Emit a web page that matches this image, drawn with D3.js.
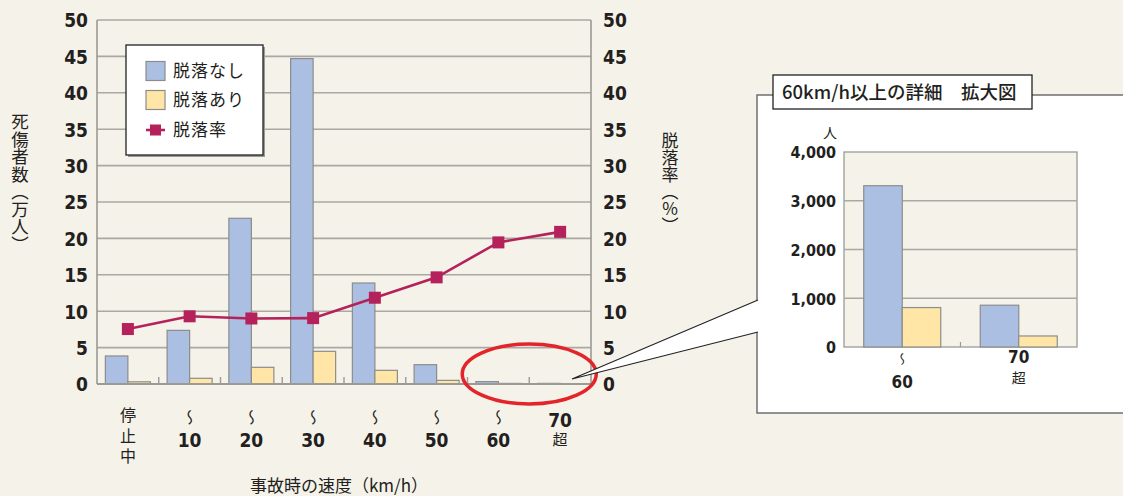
<!DOCTYPE html>
<html>
<head>
<meta charset="utf-8">
<script src="https://cdn.jsdelivr.net/npm/d3@7/dist/d3.min.js"></script>
<style>
  html, body { margin: 0; padding: 0; background: #f5f2ea; }
  svg { display: block; }
  .num { font-family: "Liberation Sans Narrow", "DejaVu Sans Condensed", sans-serif; font-weight: bold; fill: #231f20; }
  .jp { font-family: "Noto Sans CJK JP", sans-serif; fill: #231f20; }
  .wave { font-family: "Noto Sans CJK JP", sans-serif; fill: #231f20; writing-mode: vertical-rl; }
</style>
</head>
<body>
<svg id="chart" width="1123" height="496"></svg>
<script>
// Speed bands at the time of the accident
const categories = ["停止中", "10", "20", "30", "40", "50", "60", "70超"];
// Casualties (10,000 persons): not ejected / ejected
const notEjected = [3.85, 7.37, 22.76, 44.7, 13.87, 2.65, 0.331, 0.086];
const ejected = [0.30, 0.78, 2.29, 4.49, 1.88, 0.50, 0.081, 0.023];
// Ejection rate (%)
const ejectRate = [7.55, 9.3, 9.0, 9.05, 11.85, 14.65, 19.45, 20.9];
const yTicks = [0, 5, 10, 15, 20, 25, 30, 35, 40, 45, 50];

// Detail for 60 km/h and above (persons)
const detailCats = ["60", "70超"];
const detailNotEjected = [3308, 857];
const detailEjected = [809, 226];
const detailTicks = [0, 1000, 2000, 3000, 4000];

const seriesNames = ["脱落なし", "脱落あり", "脱落率"];

const C = {
  bg: "#f5f2ea", grid: "#a9a8a2", axis: "#9a9a96",
  blue: "#abbfe3", yellow: "#ffe6a6", barStroke: "#8c8c8c",
  rate: "#b5215b", ring: "#e3242b"
};

const svg = d3.select("#chart");
svg.append("rect").attr("width", 1123).attr("height", 496).attr("fill", C.bg);

// ---------- main chart ----------
const plot = { left: 97, right: 591, top: 20, bottom: 384 };
const x = d3.scaleBand().domain(categories).range([plot.left, plot.right]).padding(0);
const sub = d3.scaleBand().domain(["n", "e"]).range([0, x.bandwidth()]).paddingInner(0).paddingOuter(0.372);
const y = d3.scaleLinear().domain([0, 50]).range([plot.bottom, plot.top]);

const g = svg.append("g");

// horizontal grid
g.append("g").selectAll("line").data(yTicks.filter(d => d > 0)).join("line")
  .attr("x1", plot.left).attr("x2", plot.right)
  .attr("y1", d => y(d)).attr("y2", d => y(d))
  .attr("stroke", C.grid).attr("stroke-width", 1.6);

// plot borders
g.append("line").attr("x1", plot.left).attr("x2", plot.left).attr("y1", plot.top).attr("y2", plot.bottom)
  .attr("stroke", C.axis).attr("stroke-width", 1.6);
g.append("line").attr("x1", plot.right).attr("x2", plot.right).attr("y1", plot.top).attr("y2", plot.bottom)
  .attr("stroke", C.axis).attr("stroke-width", 1.6);

// bars
const bars = g.append("g");
bars.selectAll("rect.n").data(categories).join("rect")
  .attr("x", d => x(d) + sub("n")).attr("width", sub.bandwidth())
  .attr("y", (d, i) => y(notEjected[i])).attr("height", (d, i) => y(0) - y(notEjected[i]))
  .attr("fill", C.blue).attr("stroke", C.barStroke).attr("stroke-width", 1.2);
bars.selectAll("rect.e").data(categories).join("rect")
  .attr("x", d => x(d) + sub("e")).attr("width", sub.bandwidth())
  .attr("y", (d, i) => y(ejected[i])).attr("height", (d, i) => y(0) - y(ejected[i]))
  .attr("fill", C.yellow).attr("stroke", C.barStroke).attr("stroke-width", 1.2);

// baseline and category ticks
g.append("line").attr("x1", plot.left).attr("x2", plot.right).attr("y1", y(0)).attr("y2", y(0))
  .attr("stroke", C.axis).attr("stroke-width", 2);
g.append("g").selectAll("line").data(categories.slice(1)).join("line")
  .attr("x1", d => x(d)).attr("x2", d => x(d)).attr("y1", y(0)).attr("y2", y(0) - 7)
  .attr("stroke", C.axis).attr("stroke-width", 1.4);

// left axis labels
const leftAxis = d3.axisLeft(y).tickValues(yTicks).tickSize(0).tickPadding(9);
const la = g.append("g").attr("transform", `translate(${plot.left},0)`).call(leftAxis);
la.select(".domain").remove();
la.selectAll("text").attr("class", "num").style("font-size", "19px").attr("dy", "0.36em");

// right axis labels
const rightAxis = d3.axisRight(y).tickValues(yTicks).tickSize(0).tickPadding(12);
const ra = g.append("g").attr("transform", `translate(${plot.right},0)`).call(rightAxis);
ra.select(".domain").remove();
ra.selectAll("text").attr("class", "num").style("font-size", "19px").attr("dy", "0.36em");

// rate line
const cx = d => x(d) + x.bandwidth() / 2;
const line = d3.line().x((d, i) => cx(categories[i])).y(d => y(d));
g.append("path").datum(ejectRate).attr("d", line)
  .attr("fill", "none").attr("stroke", C.rate).attr("stroke-width", 2.6);
g.append("g").selectAll("rect").data(ejectRate).join("rect")
  .attr("x", (d, i) => cx(categories[i]) - 6).attr("y", d => y(d) - 6)
  .attr("width", 12).attr("height", 12).attr("fill", C.rate);

// x category labels
const xl = g.append("g");
categories.forEach((c, i) => {
  const px = cx(c);
  if (c === "停止中") {
    xl.append("text").attr("class", "jp").attr("x", px).attr("y", 407)
      .style("writing-mode", "vertical-rl").style("letter-spacing", "4.5px")
      .style("font-size", "16px").text(c);
  } else if (c === "70超") {
    xl.append("text").attr("class", "num").attr("x", px).attr("y", 426.5)
      .attr("text-anchor", "middle").style("font-size", "19px").text("70");
    xl.append("text").attr("class", "jp").attr("x", px).attr("y", 440).attr("dy", "0.36em")
      .attr("text-anchor", "middle").style("font-size", "15px").text("超");
  } else {
    // vertical wave dash ("from ... to" mark)
    xl.append("text").attr("class", "wave").attr("x", px).attr("y", 409)
      .style("font-size", "16px").text("〜");
    xl.append("text").attr("class", "num").attr("x", px).attr("y", 446.5)
      .attr("text-anchor", "middle").style("font-size", "19px").text(c);
  }
});

// axis titles
g.append("text").attr("class", "jp").attr("x", 339).attr("y", 486.5).attr("dy", "0.34em")
  .attr("text-anchor", "middle").style("font-size", "17px").text("事故時の速度（km/h）");
g.append("text").attr("class", "jp").attr("x", 20).attr("y", 113)
  .style("writing-mode", "vertical-rl").style("font-size", "17.5px").text("死傷者数（万人）");
g.append("text").attr("class", "jp").attr("x", 670).attr("y", 132)
  .style("writing-mode", "vertical-rl").style("text-orientation", "upright")
  .style("font-size", "17px").text("脱落率（%）");

// legend
const lg = g.append("g");
lg.append("rect").attr("x", 128).attr("y", 47).attr("width", 137).attr("height", 110).attr("fill", "#9a9a9a");
lg.append("rect").attr("x", 126).attr("y", 45).attr("width", 137).attr("height", 110)
  .attr("fill", "#fff").attr("stroke", "#222").attr("stroke-width", 1.3);
const legendRows = [71, 100, 130];
[C.blue, C.yellow].forEach((col, i) => {
  lg.append("rect").attr("x", 146).attr("y", legendRows[i] - 9.5).attr("width", 19).attr("height", 19)
    .attr("fill", col).attr("stroke", C.barStroke).attr("stroke-width", 1.2);
});
lg.append("line").attr("x1", 146).attr("x2", 165).attr("y1", legendRows[2]).attr("y2", legendRows[2])
  .attr("stroke", C.rate).attr("stroke-width", 2.6);
lg.append("rect").attr("x", 150).attr("y", legendRows[2] - 5.5).attr("width", 11).attr("height", 11).attr("fill", C.rate);
seriesNames.forEach((s, i) => {
  lg.append("text").attr("class", "jp").attr("x", 173).attr("y", legendRows[i]).attr("dy", "0.36em")
    .style("font-size", "17px").style("letter-spacing", "1px").attr("fill", "#333").text(s);
});

// highlight ring round the fast bands
const ringCx = x("70超");
g.append("ellipse").attr("cx", ringCx).attr("cy", 374).attr("rx", 67).attr("ry", 30)
  .attr("fill", "none").attr("stroke", C.ring).attr("stroke-width", 3.5);

// ---------- detail inset ----------
const ins = svg.append("g");
ins.append("rect").attr("x", 757).attr("y", 95).attr("width", 400).attr("height", 318)
  .attr("fill", "#fff").attr("stroke", "#666").attr("stroke-width", 1.4);
// callout pointer
ins.append("path").attr("d", "M572,379 L758,300 L758,332 Z")
  .attr("fill", "#fff").attr("stroke", "none");
ins.append("path").attr("d", "M758,300 L572,379 L758,332")
  .attr("fill", "none").attr("stroke", "#222").attr("stroke-width", 1.1);

// inset title
ins.append("rect").attr("x", 773).attr("y", 75).attr("width", 259).attr("height", 34)
  .attr("fill", "#fff").attr("stroke", "#222").attr("stroke-width", 1.3);
ins.append("text").attr("class", "jp").attr("x", 782).attr("y", 92).attr("dy", "0.36em")
  .style("font-size", "18.5px").style("font-weight", "500").text("60km/h以上の詳細　拡大図");

const ip = { left: 844, right: 1077, top: 152, bottom: 347 };
const ix = d3.scaleBand().domain(detailCats).range([ip.left, ip.right]).padding(0);
const isub = d3.scaleBand().domain(["n", "e"]).range([0, ix.bandwidth()]).paddingInner(0).paddingOuter(0.513);
const iy = d3.scaleLinear().domain([0, 4000]).range([ip.bottom, ip.top]);

ins.append("rect").attr("x", ip.left).attr("y", ip.top).attr("width", ip.right - ip.left)
  .attr("height", ip.bottom - ip.top).attr("fill", C.bg).attr("stroke", C.axis).attr("stroke-width", 1.3);
ins.append("g").selectAll("line").data(detailTicks.filter(d => d > 0 && d < 4000)).join("line")
  .attr("x1", ip.left).attr("x2", ip.right).attr("y1", d => iy(d)).attr("y2", d => iy(d))
  .attr("stroke", C.grid).attr("stroke-width", 1.3);

ins.append("g").selectAll("rect").data(detailCats).join("rect")
  .attr("x", d => ix(d) + isub("n")).attr("width", isub.bandwidth())
  .attr("y", (d, i) => iy(detailNotEjected[i])).attr("height", (d, i) => iy(0) - iy(detailNotEjected[i]))
  .attr("fill", C.blue).attr("stroke", C.barStroke).attr("stroke-width", 1.2);
ins.append("g").selectAll("rect").data(detailCats).join("rect")
  .attr("x", d => ix(d) + isub("e")).attr("width", isub.bandwidth())
  .attr("y", (d, i) => iy(detailEjected[i])).attr("height", (d, i) => iy(0) - iy(detailEjected[i]))
  .attr("fill", C.yellow).attr("stroke", C.barStroke).attr("stroke-width", 1.2);
ins.append("line").attr("x1", ix("70超")).attr("x2", ix("70超")).attr("y1", ip.bottom).attr("y2", ip.bottom - 5)
  .attr("stroke", C.axis).attr("stroke-width", 1.2);

const iAxis = d3.axisLeft(iy).tickValues(detailTicks).tickSize(0).tickPadding(8).tickFormat(d3.format(","));
const ia = ins.append("g").attr("transform", `translate(${ip.left},0)`).call(iAxis);
ia.select(".domain").remove();
ia.selectAll("text").attr("class", "num").style("font-size", "16px").attr("dy", "0.36em");
ins.append("text").attr("class", "jp").attr("x", 830).attr("y", 133).attr("dy", "0.36em")
  .attr("text-anchor", "middle").style("font-size", "14px").text("人");

const icx = d => ix(d) + ix.bandwidth() / 2;
ins.append("text").attr("class", "wave").attr("x", icx("60")).attr("y", 353)
  .style("font-size", "13px").text("〜");
ins.append("text").attr("class", "num").attr("x", icx("60")).attr("y", 388)
  .attr("text-anchor", "middle").style("font-size", "17px").text("60");
ins.append("text").attr("class", "num").attr("x", icx("70超")).attr("y", 363)
  .attr("text-anchor", "middle").style("font-size", "17px").text("70");
ins.append("text").attr("class", "jp").attr("x", icx("70超")).attr("y", 377.5).attr("dy", "0.36em")
  .attr("text-anchor", "middle").style("font-size", "14px").text("超");
</script>
</body>
</html>
